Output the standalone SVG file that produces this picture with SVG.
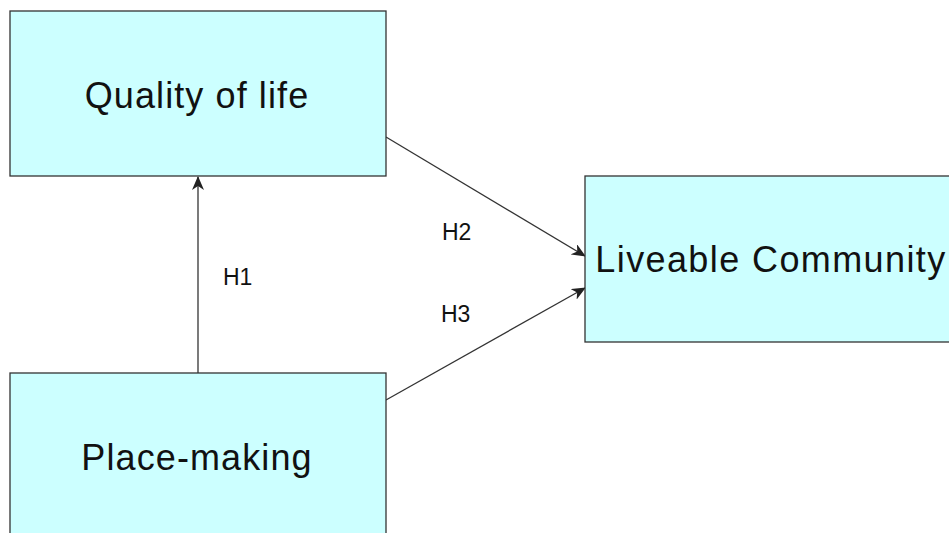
<svg xmlns="http://www.w3.org/2000/svg" width="949" height="533" viewBox="0 0 949 533">
<style>
.box{fill:#ccffff;stroke:#333;stroke-width:1.3}
.lbl{font-family:"Liberation Sans",Arial,sans-serif;font-size:36px;letter-spacing:1.1px;fill:#111;text-anchor:middle}
.h{font-family:"Liberation Sans",Arial,sans-serif;font-size:23px;fill:#111}
.edge{stroke:#333;stroke-width:1.3;fill:none;marker-end:url(#arr)}
</style>
<defs>
<marker id="arr" viewBox="0 0 14 12" refX="13" refY="6" markerWidth="14" markerHeight="12" markerUnits="userSpaceOnUse" orient="auto">
<path d="M0,0 L14,6 L0,12 L4,6 Z" fill="#222"/>
</marker>
</defs>
<rect width="949" height="533" fill="#fff"/>
<g id="connectors">
<line class="edge" x1="198" y1="373" x2="198" y2="177"/>
<line class="edge" x1="386" y1="137" x2="585" y2="256"/>
<line class="edge" x1="386" y1="400" x2="585" y2="288"/>
<text class="h" x="223" y="285">H1</text>
<text class="h" x="442" y="240">H2</text>
<text class="h" x="441" y="322">H3</text>
</g>
<g id="quality">
<rect class="box" x="10" y="11" width="376" height="165"/>
<text class="lbl" x="197" y="108">Quality of life</text>
</g>
<g id="placemaking">
<rect class="box" x="10" y="373" width="376" height="170"/>
<text class="lbl" x="197" y="470">Place-making</text>
</g>
<g id="liveable">
<rect class="box" x="585" y="176" width="380" height="166"/>
<text class="lbl" x="771" y="272" style="letter-spacing:1.4px">Liveable Community</text>
</g>
</svg>
